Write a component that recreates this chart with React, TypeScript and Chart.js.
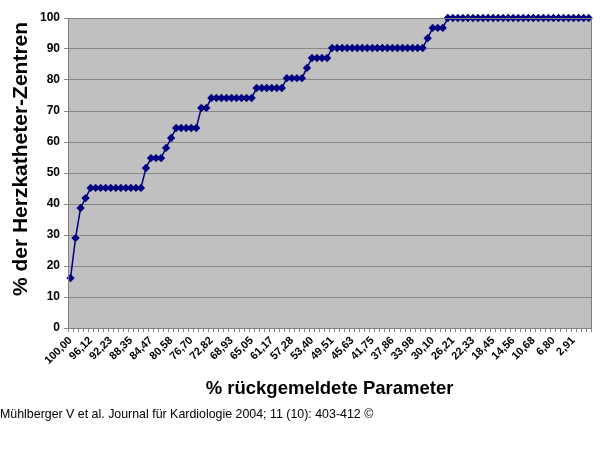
import React, { useEffect, useRef } from "react";
import { Chart, registerables } from "chart.js";

Chart.register(...registerables);

// % rückgemeldete Parameter (category labels)
const categories: string[] = [
  "100,00", "99,03", "98,06", "97,09", "96,12", "95,15", "94,17", "93,20",
  "92,23", "91,26", "90,29", "89,32", "88,35", "87,38", "86,41", "85,44",
  "84,47", "83,50", "82,52", "81,55", "80,58", "79,61", "78,64", "77,67",
  "76,70", "75,73", "74,76", "73,79", "72,82", "71,84", "70,87", "69,90",
  "68,93", "67,96", "66,99", "66,02", "65,05", "64,08", "63,11", "62,14",
  "61,17", "60,19", "59,22", "58,25", "57,28", "56,31", "55,34", "54,37",
  "53,40", "52,43", "51,46", "50,49", "49,51", "48,54", "47,57", "46,60",
  "45,63", "44,66", "43,69", "42,72", "41,75", "40,78", "39,81", "38,83",
  "37,86", "36,89", "35,92", "34,95", "33,98", "33,01", "32,04", "31,07",
  "30,10", "29,13", "28,16", "27,18", "26,21", "25,24", "24,27", "23,30",
  "22,33", "21,36", "20,39", "19,42", "18,45", "17,48", "16,50", "15,53",
  "14,56", "13,59", "12,62", "11,65", "10,68", "9,71", "8,74", "7,77",
  "6,80", "5,83", "4,85", "3,88", "2,91", "1,94", "0,97", "0,00",
];

// % der Herzkatheter-Zentren
const values: number[] = [
  16.1, 29.0, 38.7, 41.9,
  45.2, 45.2, 45.2, 45.2, 45.2, 45.2, 45.2, 45.2, 45.2, 45.2, 45.2,
  51.6,
  54.8, 54.8, 54.8,
  58.1, 61.3,
  64.5, 64.5, 64.5, 64.5, 64.5,
  71.0, 71.0,
  74.2, 74.2, 74.2, 74.2, 74.2, 74.2, 74.2, 74.2, 74.2,
  77.4, 77.4, 77.4, 77.4, 77.4, 77.4,
  80.6, 80.6, 80.6, 80.6,
  83.9,
  87.1, 87.1, 87.1, 87.1,
  90.3, 90.3, 90.3, 90.3, 90.3, 90.3, 90.3, 90.3, 90.3, 90.3,
  90.3, 90.3, 90.3, 90.3, 90.3, 90.3, 90.3, 90.3, 90.3,
  93.5,
  96.8, 96.8, 96.8,
  100, 100, 100, 100, 100, 100, 100, 100, 100, 100,
  100, 100, 100, 100, 100, 100, 100, 100, 100, 100,
  100, 100, 100, 100, 100, 100, 100, 100, 100,
];

const yMin = 0;
const yMax = 100;
const yStep = 10;
const labelEvery = 4;

const xTitle = "% rückgemeldete Parameter";
const yTitle = "% der Herzkatheter-Zentren";
const footer = "Mühlberger V et al. Journal für Kardiologie 2004; 11 (10): 403-412 ©";

const FONT = "'Liberation Sans', Arial, sans-serif";

const plotBg = {
  id: "plotBg",
  beforeDraw(chart: any) {
    const { ctx, chartArea } = chart;
    if (!chartArea) return;
    ctx.save();
    ctx.fillStyle = "#c0c0c0";
    ctx.fillRect(chartArea.left, chartArea.top, chartArea.right - chartArea.left, chartArea.bottom - chartArea.top);
    ctx.restore();
  },
  afterDatasetsDraw(chart: any) {
    const { ctx, chartArea } = chart;
    ctx.save();
    ctx.strokeStyle = "#808080";
    ctx.lineWidth = 1;
    ctx.strokeRect(
      Math.round(chartArea.left) + 0.5,
      Math.round(chartArea.top) + 0.5,
      Math.round(chartArea.right - chartArea.left),
      Math.round(chartArea.bottom - chartArea.top)
    );
    ctx.restore();
  },
  afterDraw(chart: any) {
    const { ctx } = chart;
    ctx.save();
    ctx.translate(21, 159);
    ctx.rotate(-Math.PI / 2);
    ctx.font = `bold 21px ${FONT}`;
    ctx.fillStyle = "#000";
    ctx.textAlign = "center";
    ctx.textBaseline = "middle";
    ctx.fillText(yTitle, 0, 0);
    ctx.restore();
  },
};

export default function App() {
  const canvasRef = useRef<HTMLCanvasElement | null>(null);

  useEffect(() => {
    if (!canvasRef.current) return;
    const chart = new Chart(canvasRef.current, {
      type: "line",
      data: {
        labels: categories,
        datasets: [
          {
            data: values,
            borderColor: "#000080",
            backgroundColor: "#000080",
            borderWidth: 1.5,
            pointStyle: "rectRot",
            pointRadius: 4.2,
            pointBorderWidth: 0,
            pointBackgroundColor: "#000080",
            tension: 0,
            clip: false,
          },
        ],
      },
      options: {
        responsive: false,
        animation: false,
        layout: { padding: { left: 0, top: 18, right: 4, bottom: 65 } },
        plugins: {
          legend: { display: false },
          tooltip: { enabled: false },
          title: { display: false },
        },
        scales: {
          x: {
            type: "category",
            offset: true,
            grid: {
              display: true,
              drawOnChartArea: false,
              drawTicks: true,
              tickLength: 4,
              color: "#808080",
              offset: true,
            },
            border: { color: "#808080" },
            ticks: {
              autoSkip: false,
              maxRotation: 45,
              minRotation: 45,
              padding: 2,
              color: "#000",
              font: { family: FONT, size: 11, weight: "bold" },
              callback: (_v: any, i: number) => (i % labelEvery === 0 ? categories[i] : ""),
            },
            title: {
              display: true,
              text: xTitle,
              color: "#000",
              font: { family: FONT, size: 18.5, weight: "bold", lineHeight: 1.2 },
              padding: { top: 0, bottom: 0 },
            },
            afterFit: (scale: any) => {
              scale.height = 72;
            },
          },
          y: {
            min: yMin,
            max: yMax,
            grid: {
              color: "#888888",
              tickLength: 4,
            },
            border: { color: "#808080" },
            ticks: {
              stepSize: yStep,
              padding: 4,
              color: "#000",
              font: { family: FONT, size: 12, weight: "bold" },
            },
            title: { display: false },
            afterFit: (scale: any) => {
              scale.width = 68;
            },
          },
        },
      },
      plugins: [plotBg],
    });
    return () => chart.destroy();
  }, []);

  return (
    <div style={{ position: "absolute", left: 0, top: 0, width: 600, height: 465, background: "#fff" }}>
      <canvas ref={canvasRef} width={600} height={465} style={{ display: "block" }} />
      <div
        style={{
          position: "absolute",
          left: 0,
          top: 406,
          fontFamily: FONT,
          fontSize: 12.4,
          lineHeight: "16px",
          color: "#000",
          whiteSpace: "nowrap",
        }}
      >
        {footer}
      </div>
    </div>
  );
}
